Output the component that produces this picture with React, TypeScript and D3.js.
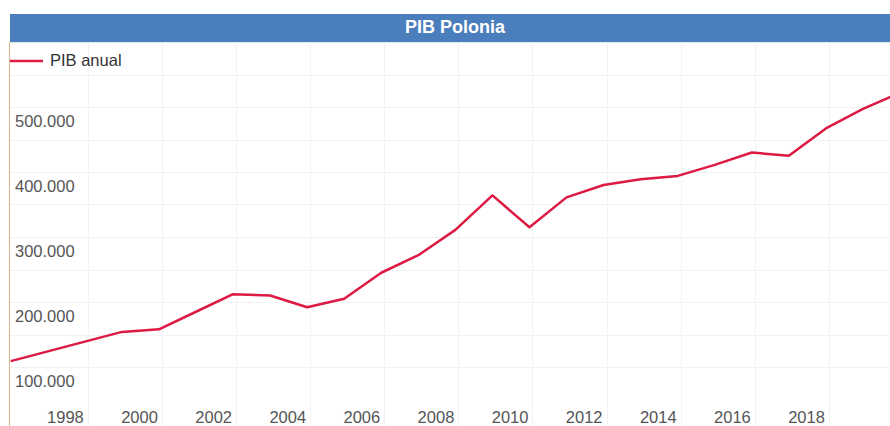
import React from "react";
import * as d3 from "d3";

const years = [1995,1996,1997,1998,1999,2000,2001,2002,2003,2004,2005,2006,2007,2008,2009,2010,2011,2012,2013,2014,2015,2016,2017,2018,2019];
const gdp = [109000,124000,139000,154000,158000,185000,212000,210000,192000,205000,245000,272000,311000,364000,315000,361000,380000,389000,394000,411000,430000,425000,467000,497000,522000];
const xTickYears = [1998,2000,2002,2004,2006,2008,2010,2012,2014,2016,2018];
const yLabelValues = [100000,200000,300000,400000,500000];
const yGridValues = [100000,150000,200000,250000,300000,350000,400000,450000,500000,550000];
const title = "PIB Polonia";
const seriesName = "PIB anual";

const W = 890, H = 426;
const left = 10, right = 890, top = 42, bottom = 426;

export default function App() {
  const x = d3.scaleLinear().domain([1995.9, 2019.65]).range([left, right]);
  const y = d3.scaleLinear().domain([0, 600000]).range([432, top]);
  const pts: [number, number][] = years.map((yr, i) => [yr + 0.92, gdp[i]]);
  const line = d3.line<[number, number]>().x(d => x(d[0])).y(d => y(d[1]));
  const fmt = (v: number) => d3.format(",")(v).replace(/,/g, ".");
  const font = "'Liberation Sans', Arial, sans-serif";
  return (
    <svg width={W} height={H} style={{ position: "absolute", left: 0, top: 0, fontFamily: font }}>
      <defs>
        <clipPath id="plot">
          <rect x={left} y={top} width={right - left} height={bottom - top} />
        </clipPath>
      </defs>
      <rect x={0} y={0} width={W} height={H} fill="#fff" />
      <g stroke="#f2f2f2" strokeWidth={1}>
        {yGridValues.map(v => (
          <line key={"h" + v} x1={left} x2={right} y1={Math.round(y(v)) + 0.5} y2={Math.round(y(v)) + 0.5} />
        ))}
        {d3.range(1998, 2019, 2).map(v => (
          <line key={"v" + v} x1={Math.round(x(v)) + 0.5} x2={Math.round(x(v)) + 0.5} y1={top} y2={bottom} />
        ))}
      </g>
      <rect x={left} y={14} width={900 - left} height={28} fill="#4b7ebd" />
      <line x1={left} x2={W} y1={42.5} y2={42.5} stroke="#e3e8ef" />
      <text x={455} y={28} textAnchor="middle" dominantBaseline="middle" fill="#fff" fontWeight="bold" fontSize={18}>{title}</text>
      <line x1={9.5} x2={9.5} y1={top} y2={H} stroke="#e2b48a" strokeWidth={1} />
      {yLabelValues.map(v => (
        <text key={"yl" + v} x={15} y={y(v) + 16} dominantBaseline="middle" fontSize={16.5} fill="#555">{fmt(v)}</text>
      ))}
      {xTickYears.map(v => (
        <text key={"xl" + v} x={x(v) - 4} y={419} textAnchor="end" dominantBaseline="middle" fontSize={16.5} fill="#555">{v}</text>
      ))}
      <g clipPath="url(#plot)">
        <path d={line(pts) || ""} fill="none" stroke="#dc1a44" strokeWidth={2.5} strokeLinejoin="round" />
      </g>
      <line x1={10} x2={43} y1={61} y2={61} stroke="#dc1a44" strokeWidth={2.5} />
      <text x={50} y={62} dominantBaseline="middle" fontSize={16.5} fill="#333">{seriesName}</text>
    </svg>
  );
}
